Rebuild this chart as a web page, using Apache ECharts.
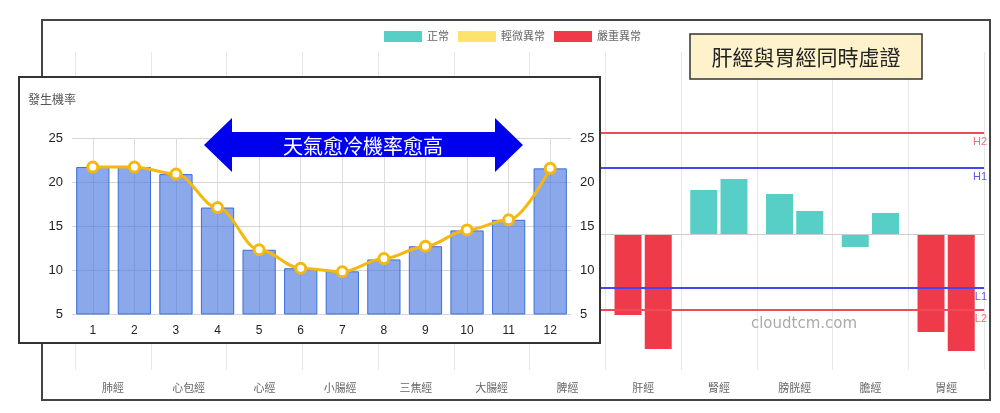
<!DOCTYPE html>
<html>
<head>
<meta charset="utf-8">
<script src="https://cdn.jsdelivr.net/npm/echarts@6/dist/echarts.min.js"></script>
<style>
html, body { margin: 0; padding: 0; background: #fff; }
#wrap { position: relative; width: 1000px; height: 413px; }
#main { position: absolute; left: 0; top: 0; width: 1000px; height: 413px; }
#inset { position: absolute; left: 18px; top: 76px; width: 583px; height: 268px;
  box-sizing: border-box; border: 2px solid #333; background: #fff; }
</style>
</head>
<body>
<div id="wrap">
  <div id="main"></div>
  <div id="inset"></div>
</div>
<script>
// big chart: meridians, two bars each
const meridians = ["肺經", "心包經", "心經", "小腸經", "三焦經", "大腸經", "脾經", "肝經", "腎經", "膀胱經", "膽經", "胃經"];
const leftValues = [null, null, null, null, null, null, null, -81, 44, 40, -13, -98];
const rightValues = [null, null, null, null, null, null, null, -115, 55, 23, 21, -117];
const limitNames = ["H2", "H1", "L1", "L2"];
const limitValues = [101, 66, -54, -76];
const levelNames = ["正常", "輕微異常", "嚴重異常"];
const levelColors = ["#57cfc6", "#fde36b", "#ef3a4a"];

// inset chart: monthly rate
const months = ["1", "2", "3", "4", "5", "6", "7", "8", "9", "10", "11", "12"];
const rateBars = [21.7, 21.7, 20.9, 17.1, 12.3, 10.2, 9.85, 11.2, 12.7, 14.5, 15.7, 21.55];
const rateLine = [21.7, 21.7, 20.9, 17.1, 12.3, 10.2, 9.8, 11.3, 12.7, 14.55, 15.7, 21.55];

const FONT = "Liberation Sans, Noto Sans CJK TC, sans-serif";
const RED = "#ef4a55";
const BLUE = "#4646ee";

function levelColor(v) {
  if (v == null) return levelColors[0];
  if (v > limitValues[0] || v < limitValues[3]) return levelColors[2];
  if (v > limitValues[1] || v < limitValues[2]) return levelColors[1];
  return levelColors[0];
}

let mainChart = echarts.init(document.getElementById("main"));
let insetChart = echarts.init(document.getElementById("inset"));

let limitLines = limitValues.map((v, i) => {
  let c = i == 0 || i == 3 ? RED : BLUE;
  return {
    name: limitNames[i],
    yAxis: v,
    lineStyle: { color: c, width: 2, type: "solid" },
    label: { color: i == 0 || i == 3 ? "#f07080" : "#5a5aee" },
  };
});
limitLines.push({
  name: "0",
  yAxis: 0,
  lineStyle: { color: "#cccccc", width: 1, type: "solid" },
  label: { show: false },
});

let option1 = {
  animation: false,
  textStyle: { fontFamily: FONT },
  legend: {
    data: levelNames,
    left: 384,
    top: 31,
    padding: 0,
    icon: "rect",
    itemWidth: 38,
    itemHeight: 11,
    itemGap: 9,
    textStyle: { color: "#666", fontSize: 11, fontFamily: FONT },
  },
  grid: { left: 75, right: 16, top: 52, bottom: 43 },
  xAxis: {
    type: "category",
    data: meridians,
    axisLine: { lineStyle: { color: "#dddddd" } },
    axisTick: { show: true, length: 8, lineStyle: { color: "#e6e6e6" } },
    splitLine: { show: true, lineStyle: { color: "#e8e8e8" } },
    axisLabel: { color: "#666", fontSize: 11, margin: 13 },
  },
  yAxis: { type: "value", min: -136, max: 182, show: false },
  series: [
    {
      name: "left",
      type: "bar",
      barWidth: 27,
      barGap: "12%",
      data: leftValues.map((v) => ({ value: v, itemStyle: { color: levelColor(v) } })),
      markLine: {
        silent: true,
        symbol: ["none", "none"],
        label: { show: true, position: "insideEndBottom", formatter: "{b}", fontSize: 11, distance: [-3, 3] },
        data: limitLines,
      },
    },
    {
      name: "right",
      type: "bar",
      barWidth: 27,
      data: rightValues.map((v) => ({ value: v, itemStyle: { color: levelColor(v) } })),
    },
    ...levelNames.map((n, i) => ({
      name: n,
      type: "line",
      data: [],
      itemStyle: { color: levelColors[i] },
      lineStyle: { color: levelColors[i] },
    })),
  ],
  graphic: [
    {
      type: "rect",
      shape: { x: 42, y: 20, width: 948, height: 380 },
      style: { fill: "none", stroke: "#444", lineWidth: 2 },
      z: 100,
    },
    {
      type: "rect",
      shape: { x: 690, y: 34, width: 232, height: 45 },
      style: { fill: "#fdf2cc", stroke: "#333", lineWidth: 1.5 },
      z: 100,
    },
    {
      type: "text",
      x: 806,
      y: 57,
      style: {
        text: "肝經與胃經同時虛證",
        fill: "#222",
        font: "21px Noto Sans CJK TC",
        textAlign: "center",
        textVerticalAlign: "middle",
      },
      z: 101,
    },
    {
      type: "text",
      x: 804,
      y: 324,
      style: {
        text: "cloudtcm.com",
        fill: "#aaaaaa",
        font: "15px DejaVu Sans",
        textAlign: "center",
        textVerticalAlign: "middle",
      },
      z: 101,
    },
  ],
};

let option2 = {
  animation: false,
  textStyle: { fontFamily: FONT },
  title: {
    text: "發生機率",
    left: 8,
    top: 15,
    padding: 0,
    textStyle: { fontSize: 12, color: "#555", fontWeight: "normal", fontFamily: "Noto Sans CJK TC" },
  },
  grid: { left: 52, right: 28, top: 60, bottom: 28 },
  xAxis: {
    type: "category",
    data: months,
    axisLine: { show: false },
    axisTick: { show: false },
    splitLine: { show: true, alignWithLabel: true, lineStyle: { color: "#dcdcdc" } },
    axisLabel: { color: "#222", fontSize: 12, margin: 11 },
  },
  yAxis: [
    {
      type: "value",
      min: 5,
      max: 25,
      interval: 5,
      position: "left",
      axisLine: { show: false },
      axisTick: { show: false },
      axisLabel: { color: "#222", fontSize: 13, margin: 9 },
      splitLine: { lineStyle: { color: "#d6d6d6" } },
    },
    {
      type: "value",
      min: 5,
      max: 25,
      interval: 5,
      position: "right",
      axisLine: { show: false },
      axisTick: { show: false },
      axisLabel: { color: "#222", fontSize: 13, margin: 9 },
      splitLine: { show: false },
    },
  ],
  series: [
    {
      type: "bar",
      barWidth: "80%",
      data: rateBars,
      itemStyle: { color: "rgba(60,110,220,0.6)", borderColor: "#3c6fd8", borderWidth: 1 },
    },
    {
      type: "line",
      data: rateLine,
      smooth: 0.35,
      smoothMonotone: "x",
      z: 5,
      lineStyle: { color: "#f5b80f", width: 3 },
      symbol: "circle",
      symbolSize: 10,
      itemStyle: { color: "#ffffff", borderColor: "#f5b80f", borderWidth: 3 },
    },
  ],
  graphic: [
    {
      type: "polygon",
      shape: {
        points: [
          [184, 67], [212, 40], [212, 54], [475, 54], [475, 40],
          [503, 67], [475, 94], [475, 79], [212, 79], [212, 94],
        ],
      },
      style: { fill: "#0000ee" },
      z: 100,
    },
    {
      type: "text",
      x: 343,
      y: 68,
      style: {
        text: "天氣愈冷機率愈高",
        fill: "#ffffff",
        font: "20px Noto Sans CJK TC",
        textAlign: "center",
        textVerticalAlign: "middle",
      },
      z: 101,
    },
  ],
};

mainChart.setOption(option1);
insetChart.setOption(option2);
</script>
</body>
</html>
